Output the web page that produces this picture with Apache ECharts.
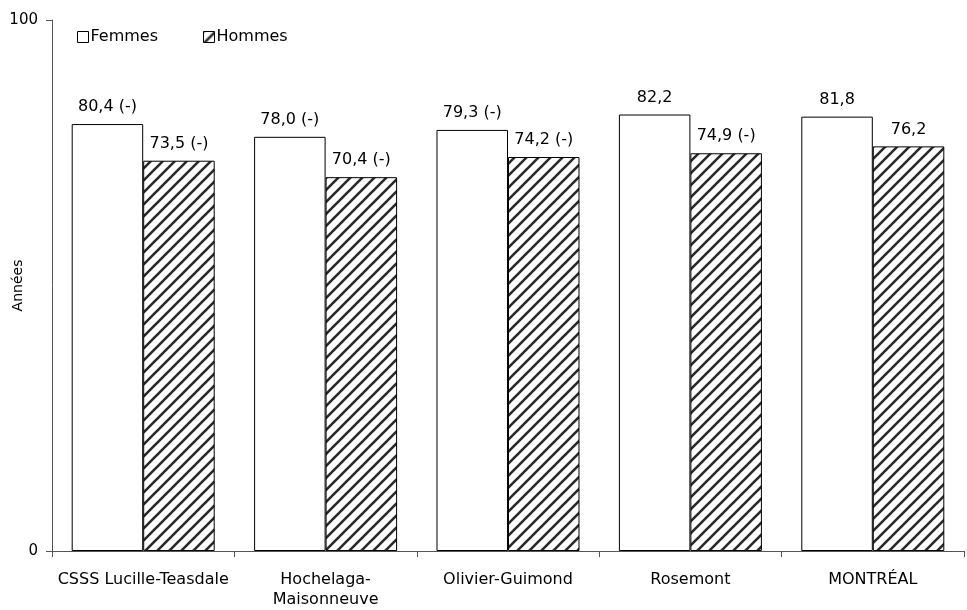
<!DOCTYPE html>
<html>
<head>
<meta charset="utf-8">
<script src="https://cdn.jsdelivr.net/npm/echarts@6/dist/echarts.min.js"></script>
<style>
  html, body { margin: 0; padding: 0; background: #fff; }
  #chart { width: 967px; height: 610px; }
</style>
</head>
<body>
<div id="chart"></div>
<script>
// Espérance de vie à la naissance selon le sexe
var categories = ['CSSS Lucille-Teasdale', 'Hochelaga-\nMaisonneuve', 'Olivier-Guimond', 'Rosemont', 'MONTRÉAL'];
var femmes = [80.4, 78.0, 79.3, 82.2, 81.8];
var hommes = [73.5, 70.4, 74.2, 74.9, 76.2];
// Marqueur de différence significative par rapport à Montréal
var femmesSig = ['(-)', '(-)', '(-)', '', ''];
var hommesSig = ['(-)', '(-)', '(-)', '(-)', ''];
var yTicks = [0, 100];

var FONT = 'DejaVu Sans';

// Motif hachuré diagonal pour la série Hommes
function makeHatch() {
  var s = 12;
  var c = document.createElement('canvas');
  c.width = s; c.height = s;
  var ctx = c.getContext('2d');
  ctx.fillStyle = '#ffffff';
  ctx.fillRect(0, 0, s, s);
  ctx.strokeStyle = '#2a2a2a';
  ctx.lineWidth = 2.6;
  ctx.beginPath();
  ctx.moveTo(-s, s); ctx.lineTo(s, -s);
  ctx.moveTo(0, s); ctx.lineTo(s, 0);
  ctx.moveTo(0, 2 * s); ctx.lineTo(2 * s, 0);
  ctx.stroke();
  return c;
}
var hatch = makeHatch();

function fmt(v) { return v.toFixed(1).replace('.', ','); }

var chart = echarts.init(document.getElementById('chart'), null, { renderer: 'canvas' });
chart.setOption({
  animation: false,
  textStyle: { fontFamily: FONT },
  grid: { left: 52, right: 3, top: 20, bottom: 59, containLabel: false, outerBoundsMode: 'none' },
  legend: {
    left: 72, top: 24,
    itemWidth: 11, itemHeight: 11, itemGap: 45,
    icon: 'rect',
    textStyle: { fontFamily: FONT, fontSize: 16, color: '#000', padding: [0, 0, 0, -3] },
    data: [
      { name: 'Femmes', itemStyle: { color: '#fff', borderColor: '#000', borderWidth: 1 } },
      { name: 'Hommes', itemStyle: { color: { image: hatch, repeat: 'repeat' }, borderColor: '#000', borderWidth: 1 } }
    ]
  },
  xAxis: {
    type: 'category',
    data: categories,
    axisLine: { lineStyle: { color: '#555', width: 1 } },
    axisTick: { show: true, alignWithLabel: false, length: 6, lineStyle: { color: '#555' } },
    axisLabel: { interval: 0, fontFamily: FONT, fontSize: 16, color: '#000', margin: 19, lineHeight: 20 }
  },
  yAxis: {
    type: 'value',
    min: 0, max: 100, interval: 100,
    name: 'Années',
    nameLocation: 'middle',
    nameGap: 27,
    nameMoveOverlap: false,
    nameTextStyle: { fontFamily: FONT, fontSize: 14, color: '#000' },
    axisLine: { show: true, lineStyle: { color: '#555', width: 1 } },
    axisTick: { show: true, length: 6, lineStyle: { color: '#555' } },
    axisLabel: { fontFamily: FONT, fontSize: 15, color: '#000', margin: 14,
      formatter: function (v) { return yTicks.indexOf(v) >= 0 ? String(v) : ''; } },
    splitLine: { show: false }
  },
  series: [
    {
      name: 'Femmes', type: 'bar',
      data: femmes,
      barGap: '0%', barCategoryGap: '21.6%',
      itemStyle: { color: '#fff', borderColor: '#000', borderWidth: 1 },
      label: {
        show: true, position: 'top', distance: 9,
        fontFamily: FONT, fontSize: 16, color: '#000',
        formatter: function (p) { var s = femmesSig[p.dataIndex]; return fmt(p.value) + (s ? ' ' + s : ''); }
      }
    },
    {
      name: 'Hommes', type: 'bar',
      data: hommes,
      itemStyle: { color: { image: hatch, repeat: 'repeat' }, borderColor: '#000', borderWidth: 1 },
      label: {
        show: true, position: 'top', distance: 9,
        fontFamily: FONT, fontSize: 16, color: '#000',
        formatter: function (p) { var s = hommesSig[p.dataIndex]; return fmt(p.value) + (s ? ' ' + s : ''); }
      }
    }
  ]
});
</script>
</body>
</html>
